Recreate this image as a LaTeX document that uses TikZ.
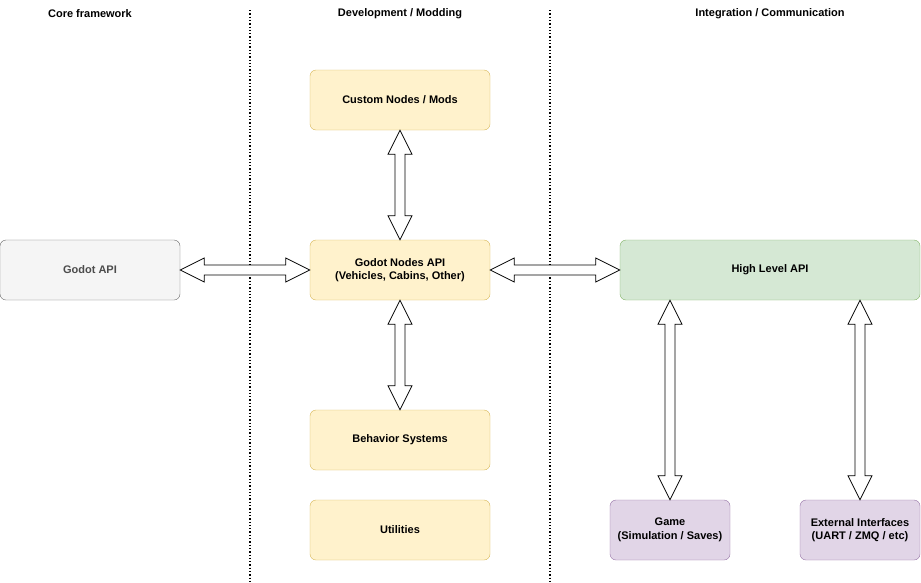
\documentclass[tikz,border=0pt]{standalone}
\usepackage{fontspec}
\setmainfont{Liberation Sans}
\usetikzlibrary{calc, positioning}
\definecolor{greyfill}{HTML}{F5F5F5}
\definecolor{greyline}{HTML}{666666}
\definecolor{yelfill}{HTML}{FFF2CC}
\definecolor{yelline}{HTML}{D6B656}
\definecolor{grnfill}{HTML}{D5E8D4}
\definecolor{grnline}{HTML}{82B366}
\definecolor{purfill}{HTML}{E1D5E7}
\definecolor{purline}{HTML}{9673A6}
\tikzset{
  block/.style = {draw, rounded corners=6pt, minimum height=60pt, align=center,
    font=\fontsize{11}{13.5}\selectfont\bfseries, inner sep=2pt},
  core/.style = {block, fill=greyfill, draw=greyline, text=black!70, minimum width=180pt},
  dev/.style = {block, fill=yelfill, draw=yelline, minimum width=180pt},
  integ/.style = {block, fill=grnfill, draw=grnline, minimum width=300pt},
  ext/.style = {block, fill=purfill, draw=purline, minimum width=120pt},
  header/.style = {font=\fontsize{11}{13.5}\selectfont\bfseries},
  divider/.style = {dotted, line width=1.3pt},
}
% hollow double block arrow between two points
\newcommand{\dblarrow}[2]{%
  \draw[black, fill=white, line width=0.8pt]
    (#1) -- ($($(#1)!24pt!(#2)$)!12pt!90:(#2)$) -- ($($(#1)!24pt!(#2)$)!5pt!90:(#2)$)
    -- ($($(#2)!24pt!(#1)$)!5pt!-90:(#1)$) -- ($($(#2)!24pt!(#1)$)!12pt!-90:(#1)$)
    -- (#2) -- ($($(#2)!24pt!(#1)$)!12pt!90:(#1)$) -- ($($(#2)!24pt!(#1)$)!5pt!90:(#1)$)
    -- ($($(#1)!24pt!(#2)$)!5pt!-90:(#2)$) -- ($($(#1)!24pt!(#2)$)!12pt!-90:(#2)$) -- cycle;}
\begin{document}
\begin{tikzpicture}[x=1pt, y=-1pt]
  \useasboundingbox (0,0) rectangle (921,582);
  % column headers and dividers
  \node (hcore) [header] at (90,14) {Core framework};
  \node (hdev) [header] at (400,14) {Development / Modding};
  \node (hint) [header] at (770,14) {Integration / Communication};
  \draw [divider] (250,10) -- (250,582);
  \draw [divider] (550,10) -- (550,582);
  % blocks
  \node (godot) [core] at (90,270) {Godot API};
  \node (custom) [dev] at (400,100) {Custom Nodes / Mods};
  \node (nodes) [dev] at (400,270) {Godot Nodes API\\(Vehicles, Cabins, Other)};
  \node (behav) [dev] at (400,440) {Behavior Systems};
  \node (util) [dev] at (400,530) {Utilities};
  \node (high) [integ] at (770,270) {High Level API};
  \node (game) [ext] at (670,530) {Game\\(Simulation / Saves)};
  \node (iface) [ext] at (860,530) {External Interfaces\\(UART / ZMQ / etc)};
  % connectors
  \dblarrow{custom.south}{nodes.north}
  \dblarrow{nodes.south}{behav.north}
  \dblarrow{godot.east}{nodes.west}
  \dblarrow{nodes.east}{high.west}
  \dblarrow{high.south -| game.north}{game.north}
  \dblarrow{high.south -| iface.north}{iface.north}
\end{tikzpicture}
\end{document}
